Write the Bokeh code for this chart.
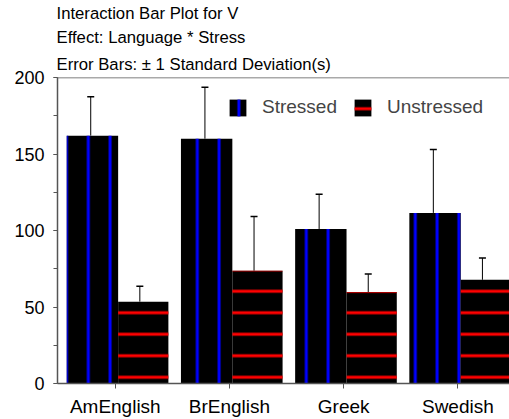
from bokeh.plotting import figure
from bokeh.models import (ColumnDataSource, Whisker, TeeHead, Legend, LegendItem, Title,
                          SingleIntervalTicker, FixedTicker, Span, Range1d)
from bokeh.embed import file_html
from bokeh.resources import INLINE

# ---- data ----
languages = ["AmEnglish", "BrEnglish", "Greek", "Swedish"]
stressed_mean = [162, 160, 101, 111.5]
stressed_sd = [25.4, 33.6, 22.7, 41.5]
unstressed_mean = [53.5, 73.7, 59.8, 67.8]
unstressed_sd = [10.0, 35.4, 11.7, 14.2]
title_lines = ["Interaction Bar Plot for V",
               "Effect: Language * Stress",
               "Error Bars: \u00b1 1 Standard Deviation(s)"]
series_names = ["Stressed", "Unstressed"]

FONT = "Liberation Sans"
idx = list(range(len(languages)))

src_s = ColumnDataSource(dict(
    x=[i - 0.2 for i in idx], ex=[i - 0.215 for i in idx],
    top=stressed_mean,
    upper=[m + s for m, s in zip(stressed_mean, stressed_sd)]))
src_u = ColumnDataSource(dict(
    x=[i + 0.245 for i in idx], ex=[i + 0.215 for i in idx],
    top=unstressed_mean,
    upper=[m + s for m, s in zip(unstressed_mean, unstressed_sd)]))

p = figure(width=498, height=419, output_backend="svg", toolbar_location=None,
           x_range=Range1d(-0.506, 3.452), y_range=Range1d(0, 200),
           title=title_lines[0],
           min_border_left=44, min_border_right=0, min_border_top=77, min_border_bottom=0)
p.margin = (0, 0, 0, 11)
p.outline_line_color = None
p.grid.visible = False
p.background_fill_color = "white"

p.title.text_font = FONT
p.title.text_font_size = "16.7px"
p.title.text_font_style = "normal"
p.title.text_color = "black"
p.title.align = "left"
p.title.offset = -1
p.title.standoff = 3
for line, so in [(title_lines[2], 8), (title_lines[1], 3)]:
    p.add_layout(Title(text=line, text_font=FONT, text_font_size="16.7px",
                       text_font_style="normal", text_color="black",
                       align="left", offset=-1, standoff=so), "above")

r_s = p.vbar(x="x", top="top", bottom=0, width=0.45, source=src_s,
             fill_color="black", line_color=None,
             hatch_pattern="vertical_line", hatch_color="#0000ff",
             hatch_weight=3, hatch_scale=21.8)
r_u = p.vbar(x="x", top="top", bottom=0, width=0.44, source=src_u,
             fill_color="black", line_color=None,
             hatch_pattern="horizontal_line", hatch_color="#ff0000",
             hatch_weight=3, hatch_scale=21.5)

for src in (src_s, src_u):
    p.add_layout(Whisker(source=src, base="ex", upper="upper", lower="top",
                         dimension="height", line_color="black", line_width=1,
                         lower_head=None,
                         upper_head=TeeHead(size=7, line_color="black", line_width=1.5)))

# top frame line
p.add_layout(Span(location=200, dimension="width", line_color="#555555", line_width=1.5))

# axes
ya = p.yaxis[0]
ya.ticker = SingleIntervalTicker(interval=50, num_minor_ticks=2)
ya.major_tick_out = 4
ya.major_tick_in = 0
ya.minor_tick_out = 4
ya.minor_tick_in = 0
ya.major_label_standoff = 9
ya.major_label_text_font = FONT
ya.major_label_text_font_size = "18px"
ya.major_label_text_color = "black"
ya.axis_line_color = "#555555"
ya.major_tick_line_color = "#555555"
ya.minor_tick_line_color = "#555555"
ya.axis_line_width = 1.5

xa = p.xaxis[0]
xa.ticker = FixedTicker(ticks=idx)
xa.major_label_overrides = {i: name for i, name in zip(idx, languages)}
xa.major_tick_out = 5
xa.major_tick_in = 0
xa.minor_tick_line_color = None
xa.major_label_standoff = 7
xa.major_label_text_font = FONT
xa.major_label_text_font_size = "19px"
xa.major_label_text_color = "black"
xa.axis_line_color = "#555555"
xa.major_tick_line_color = "#555555"
xa.axis_line_width = 1.5

legend = Legend(items=[LegendItem(label=series_names[0], renderers=[r_s]),
                       LegendItem(label=series_names[1], renderers=[r_u])],
                location=(170, 265), orientation="horizontal",
                padding=0, margin=0, spacing=15, label_standoff=14,
                glyph_width=21, glyph_height=21, label_height=21,
                label_text_font=FONT, label_text_font_size="19px",
                border_line_color=None, background_fill_alpha=0)
p.add_layout(legend)

open("out.html", "w").write(file_html(p, INLINE))
